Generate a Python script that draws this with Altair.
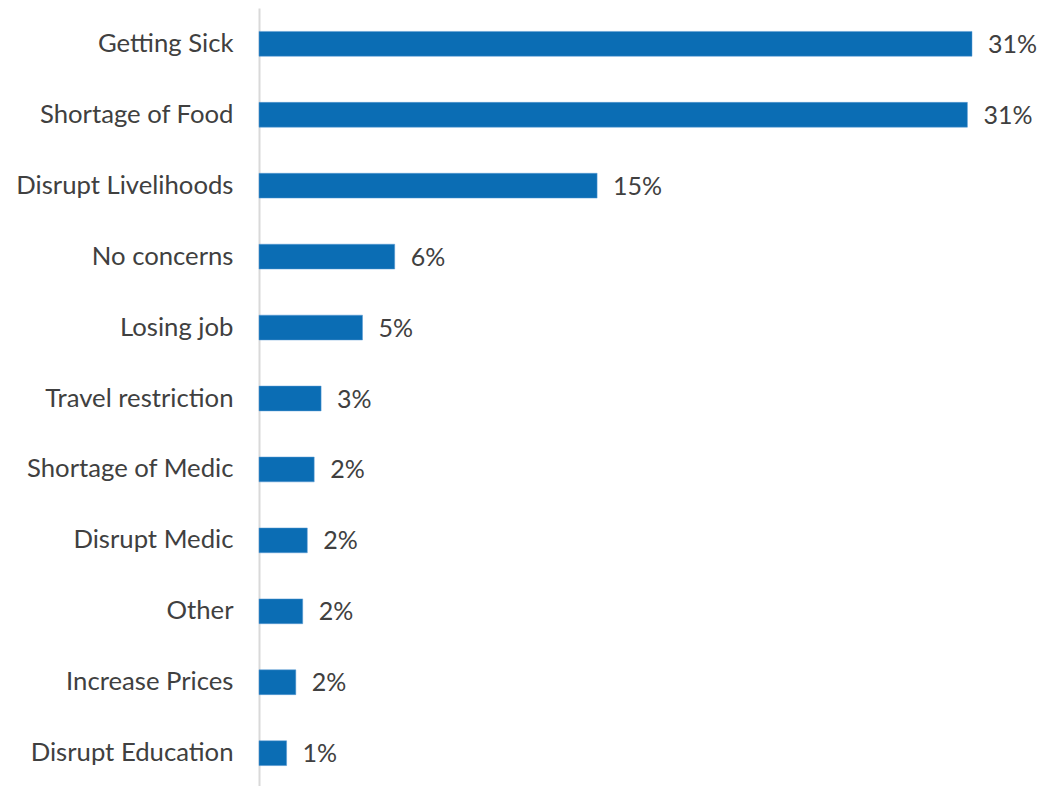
import altair as alt
import pandas as pd

categories = ["Getting Sick", "Shortage of Food", "Disrupt Livelihoods", "No concerns",
              "Losing job", "Travel restriction", "Shortage of Medic", "Disrupt Medic",
              "Other", "Increase Prices", "Disrupt Education"]
values = [0.310, 0.308, 0.147, 0.059, 0.045, 0.027, 0.024, 0.021, 0.019, 0.016, 0.012]

df = pd.DataFrame({"category": categories, "value": values})

FONT = "Lato"
FS = 25
W = 782
H = 781

y = alt.Y("category:N", sort=categories, title=None,
          scale=alt.Scale(paddingInner=0.65, paddingOuter=0.33),
          axis=alt.Axis(labelFont=FONT, labelFontSize=25.7, labelColor="#404040",
                        labelPadding=26, ticks=False, domainColor="#d9d9d9",
                        domainWidth=2, labelLimit=400, grid=False))
x = alt.X("value:Q", title=None, axis=None,
          scale=alt.Scale(domain=[0, W / 2300], nice=False, zero=True))

bars = alt.Chart(df).mark_bar(color="#0b6db4", stroke="#5b9bd5", strokeWidth=0.5).encode(x=x, y=y)
labels = alt.Chart(df).mark_text(align="left", baseline="middle", dx=16, dy=1,
                                 font=FONT, fontSize=FS, color="#404040").encode(
    x=x, y=y, text=alt.Text("value:Q", format=".0%"))

chart = (bars + labels).properties(
    width=W, height=H,
    autosize=alt.AutoSizeParams(type="none"),
    padding={"left": 251, "top": 0, "right": 0, "bottom": 0},
).configure_view(stroke=None)

chart.save("out.html", embed_options={"renderer": "svg", "actions": False})
